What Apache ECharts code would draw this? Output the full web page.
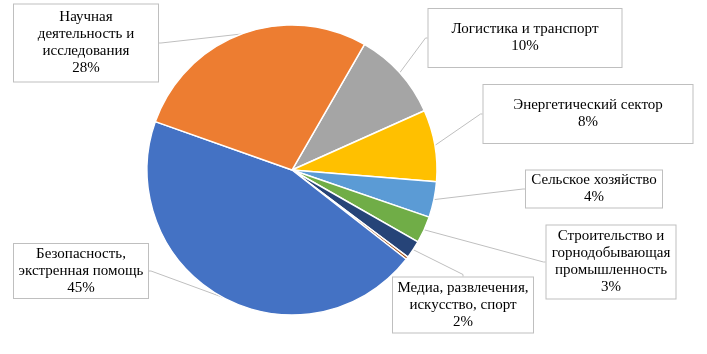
<!DOCTYPE html>
<html>
<head>
<meta charset="utf-8">
<script src="https://cdn.jsdelivr.net/npm/echarts@6/dist/echarts.min.js"></script>
<style>
  html, body { margin: 0; padding: 0; background: #fff; }
  #chart { width: 707px; height: 354px; }
</style>
</head>
<body>
<div id="chart"></div>
<script>
// data, clockwise from the top
var categories = [
  'Логистика и транспорт',
  'Энергетический сектор',
  'Сельское хозяйство',
  'Строительство и\nгорнодобывающая\nпромышленность',
  'Медиа, развлечения,\nискусство, спорт',
  'Прочее',
  'Безопасность,\nэкстренная помощь',
  'Научная\nдеятельность и\nисследования'
]
var shares = [10, 8, 4, 3, 2, 0.3, 45, 28]
var colors = ['#A5A5A5', '#FFC000', '#5B9BD5', '#70AD47', '#264478', '#9E480E', '#4472C4', '#ED7D31']

// callout boxes: centre x, centre y, width, height
var boxes = [
  [525, 38, 195, 60],
  [588, 114, 211, 60],
  [594, 189, 138, 39],
  [611, 262, 131, 75],
  [463, 305, 142, 57],
  null,
  [81, 271, 136, 56],
  [86, 43, 146, 79]
]

var chart = echarts.init(document.getElementById('chart'))

var seriesData = categories.map(function (name, i) {
  var item = { name: name, value: shares[i], itemStyle: { color: colors[i] } }
  if (!boxes[i]) {
    item.label = { show: false }
    item.labelLine = { show: false }
  } else {
    item.label = { width: boxes[i][2] - 2, height: boxes[i][3] - 2 }
  }
  return item
})

chart.setOption({
  animation: false,
  series: [
    {
      type: 'pie',
      center: [292, 170],
      radius: [0, 145],
      startAngle: 60,
      clockwise: true,
      silent: true,
      itemStyle: {
        borderColor: '#fff',
        borderWidth: 1.5
      },
      label: {
        show: true,
        position: 'outside',
        formatter: function (p) {
          return p.name + '\n' + p.value + '%'
        },
        fontFamily: 'Liberation Serif',
        fontSize: 15,
        lineHeight: 17,
        color: '#000',
        align: 'center',
        verticalAlign: 'middle',
        backgroundColor: '#fff',
        borderColor: '#BFBFBF',
        borderWidth: 1
      },
      labelLine: {
        show: true,
        length: 2,
        length2: 2,
        smooth: false,
        lineStyle: { color: '#BFBFBF', width: 1 }
      },
      labelLayout: function (params) {
        var b = boxes[params.dataIndex]
        if (!b) return {}
        return { x: b[0], y: b[1], align: 'center', verticalAlign: 'middle' }
      },
      data: seriesData
    }
  ]
})
</script>
</body>
</html>
